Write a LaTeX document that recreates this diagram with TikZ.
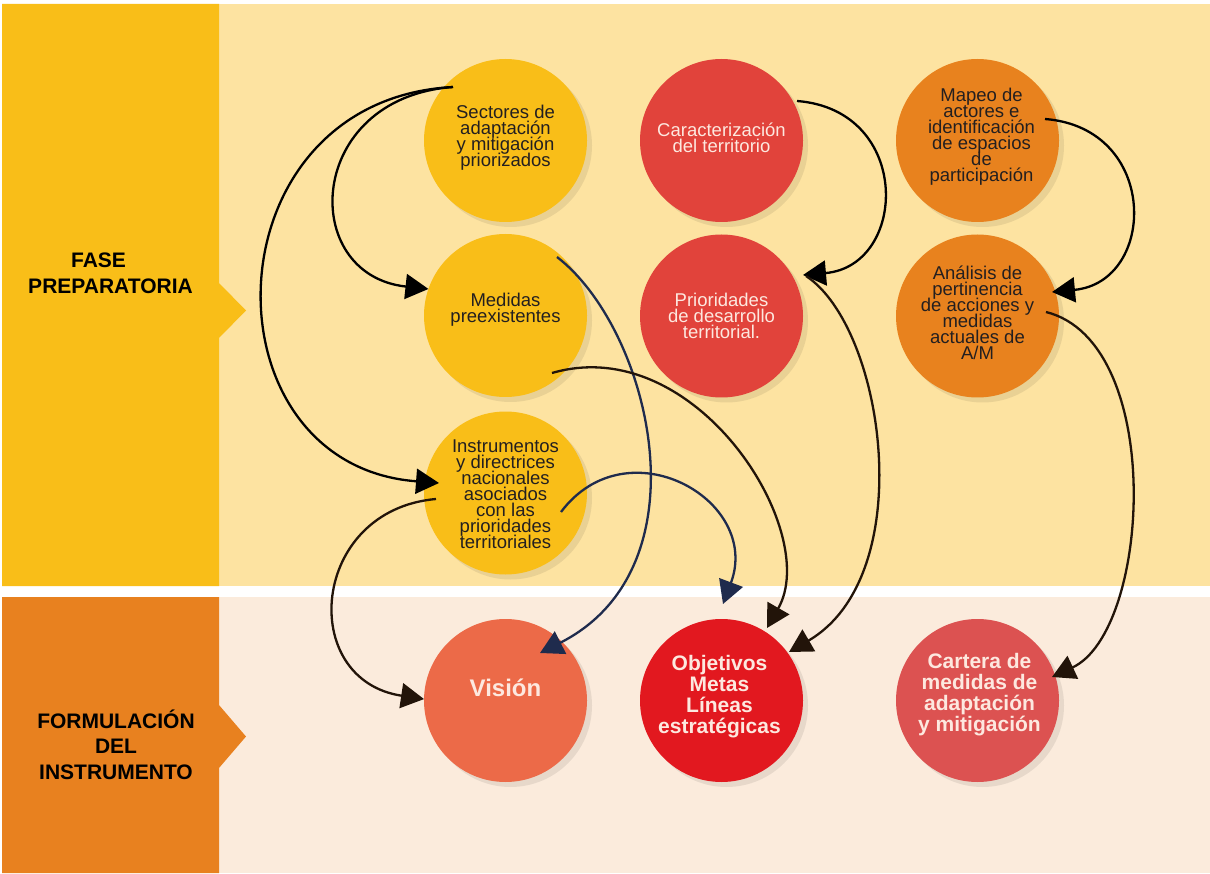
\documentclass[tikz,border=0pt]{standalone}
\usepackage{fontspec}
\setmainfont{Liberation Sans}
\usetikzlibrary{arrows.meta,calc,shadows}

\definecolor{striptop}{HTML}{F9BE18}
\definecolor{bandtop}{HTML}{FDE3A1}
\definecolor{stripbot}{HTML}{E8811F}
\definecolor{bandbot}{HTML}{FBEBDC}
\definecolor{cyellow}{HTML}{F9BE18}
\definecolor{cred}{HTML}{E1433B}
\definecolor{corange}{HTML}{E8821E}
\definecolor{cvision}{HTML}{EC6A48}
\definecolor{cobj}{HTML}{E2181F}
\definecolor{ccart}{HTML}{DC5251}
\definecolor{ink}{HTML}{231F20}
\definecolor{paper}{HTML}{FDE8DF}
\definecolor{navy}{HTML}{1F2B4D}
\definecolor{umber}{HTML}{221409}

% let lines sit closer than their glyph heights would allow
\newcommand\tightlines{\lineskiplimit=-50pt\relax}

\begin{document}
\begin{tikzpicture}[x=1pt,y=-1pt,
  ball/.style={circle, minimum size=163pt, inner sep=0pt, outer sep=0pt,
    drop shadow={shadow xshift=5pt, shadow yshift=-5pt, fill=black, opacity=0.08}},
  darktext/.style={align=center, text=ink, inner sep=0pt,
    font=\fontsize{18.5}{16}\selectfont\tightlines},
  lighttext/.style={darktext, text=paper},
  boldtext/.style={align=center, text=paper, inner sep=0pt,
    font=\bfseries\fontsize{21}{21.2}\selectfont\tightlines},
  phase/.style={align=center, text=black, inner sep=0pt,
    font=\bfseries\fontsize{21}{25.5}\selectfont\tightlines},
  link/.style={line width=2.3pt, -{Triangle[length=23pt,width=25pt]}},
]
\useasboundingbox (0,0) rectangle (1210,874);
\fill[white] (0,0) rectangle (1210,874);

% phase bands
\fill[bandtop] (2,4) rectangle (1210,586);
\fill[bandbot] (2,597) rectangle (1210,873);
\fill[striptop] (2,4) -- (219,4) -- (219,283) -- (246,310.5) -- (219,338)
  -- (219,586) -- (2,586) -- cycle;
\fill[stripbot] (2,597) -- (219,597) -- (219,705) -- (246,736.5) -- (219,768)
  -- (219,873) -- (2,873) -- cycle;

\node[phase] (fase) at (110.5,273.5) {FASE\hspace*{24pt}\\PREPARATORIA};
\node[phase] (formula) at (116,744.5) {FORMULACIÓN\\DEL\\INSTRUMENTO};

% circles
\node[ball, fill=cyellow] (sec) at (505.5,140.5) {};
\node[ball, fill=cyellow] (med) at (505.5,315.5) {};
\node[ball, fill=cyellow] (ins) at (505.5,493) {};
\node[ball, fill=cred] (car) at (721.5,140.5) {};
\node[ball, fill=cred] (pri) at (721.5,316) {};
\node[ball, fill=corange] (map) at (977.5,140.5) {};
\node[ball, fill=corange] (ana) at (977.5,316) {};
\node[ball, fill=cvision] (vis) at (505.5,700.5) {};
\node[ball, fill=cobj] (obj) at (721.5,700.5) {};
\node[ball, fill=ccart] (cart) at (977.5,700.5) {};

% circle texts
\node[darktext] (secT) at ($(sec.center)+(0,-3)$) {Sectores de\\adaptación\\y mitigación\\priorizados};
\node[darktext] (medT) at ($(med.center)+(0,-6)$) {Medidas\\preexistentes};
\node[darktext] (insT) at ($(ins.center)+(0,1)$) {Instrumentos\\y directrices\\nacionales\\asociados\\con las\\prioridades\\territoriales};
\node[lighttext] (carT) at ($(car.center)+(0,-3)$) {Caracterización\\del territorio};
\node[lighttext] (priT) at ($(pri.center)+(0,0)$) {Prioridades\\de desarrollo\\territorial.};
\node[darktext] (mapT) at ($(map.center)+(4,-4)$) {Mapeo de\\actores e\\identificación\\de espacios\\de\\participación};
\node[darktext] (anaT) at ($(ana.center)+(0,-3)$) {Análisis de\\pertinencia\\de acciones y\\medidas\\actuales de\\A/M};
\node[boldtext, font=\bfseries\fontsize{24}{24}\selectfont] (visT) at ($(vis.center)+(0,-13)$) {Visión};
\node[boldtext] (objT) at ($(obj.center)+(-2,-4)$) {Objetivos\\Metas\\Líneas\\estratégicas};
\node[boldtext] (cartT) at ($(cart.center)+(2,-6)$) {Cartera de\\medidas de\\adaptación\\y mitigación};

% connectors
\draw[link, draw=black] ($(sec.center)+(-52.5,-53.5)$) .. controls (305,98) and (298,275) .. (med.161.6);
\draw[link, draw=black] ($(sec.center)+(-52.5,-53.5)$) .. controls (206,100) and (200,465) .. ($(ins.center)+(-66.5,-10)$);
\draw[link, draw=umber] ($(ins.center)+(-69.5,6)$) .. controls (310,510) and (297,680) .. (vis.179);
\draw[link, draw=navy] ($(med.center)+(51.5,-58.5)$) .. controls (650.5,329) and (709,567.5) .. ($(vis.center)+(34.5,-47.5)$);
\draw[link, draw=navy] ($(ins.center)+(55.5,19)$) .. controls (627,424) and (762,500) .. ($(obj.center)+(1.5,-96.5)$);
\draw[link, draw=umber] ($(med.center)+(46.5,57.5)$) .. controls (696,331) and (822,532) .. ($(obj.center)+(45.5,-72.5)$);
\draw[link, draw=black] ($(car.center)+(75.5,-39.5)$) .. controls (913,110) and (908,266) .. ($(pri.center)+(81.5,-41)$);
\draw[link, draw=umber] ($(pri.center)+(84.5,-40)$) .. controls (885,328) and (920,575.5) .. ($(obj.center)+(67.5,-48.5)$);
\draw[link, draw=black] ($(map.center)+(67.5,-21.5)$) .. controls (1160,128) and (1157,282) .. ($(ana.center)+(74.5,-24)$);
\draw[link, draw=umber] ($(ana.center)+(68.5,-4)$) .. controls (1166,342) and (1151,631) .. ($(cart.center)+(74.5,-23.5)$);
\end{tikzpicture}
\end{document}
